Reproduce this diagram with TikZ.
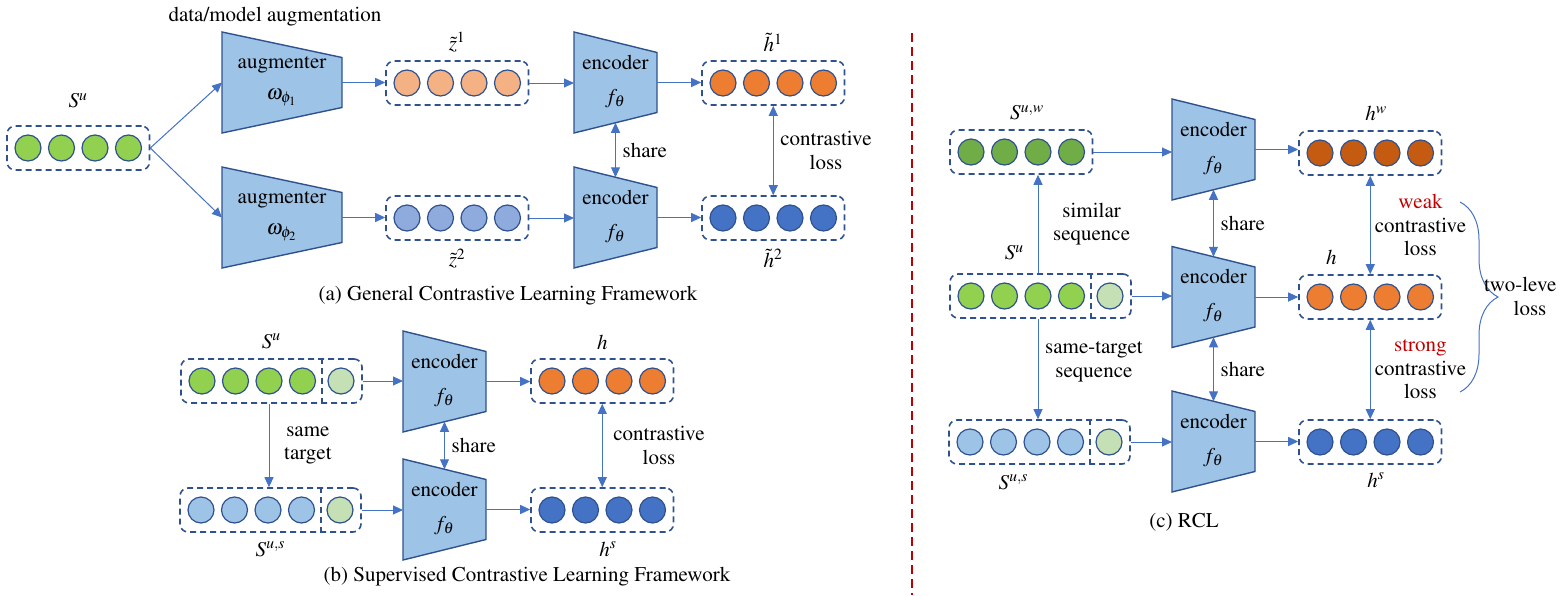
\documentclass[tikz,border=0pt]{standalone}
\usepackage{amsmath}
\usepackage[T1]{fontenc}
\usepackage{mathptmx}
\usetikzlibrary{%
  arrows.meta,%
  positioning,% wg. " of "
  fit,% dashed boxes round the circles
  calc,%
  decorations.pathreplacing% brace
}

\definecolor{boxblue}{HTML}{2F528F}
\definecolor{arrblue}{HTML}{4472C4}
\definecolor{trapfill}{HTML}{9DC3E6}
\definecolor{sgreen}{HTML}{92D050}
\definecolor{dgreen}{HTML}{70AD47}
\definecolor{lgreen}{HTML}{C5E0B4}
\definecolor{lblue}{HTML}{9DC3E6}
\definecolor{dblue}{HTML}{4472C4}
\definecolor{pblue}{HTML}{8FAADC}
\definecolor{sorange}{HTML}{ED7D31}
\definecolor{dorange}{HTML}{C55A11}
\definecolor{salmon}{HTML}{F4B183}
\definecolor{lossred}{HTML}{C00000}

% trapezoid: name, x left, y centre, width, half left height, half right height, text
\newcommand{\trapbox}[7]{%
  \filldraw[fill=trapfill,draw=boxblue,line width=0.7pt]
    (#2,#3-#5) -- (#2+#4,#3-#6) -- (#2+#4,#3+#6) -- (#2,#3+#5) -- cycle;
  \coordinate (#1_w) at (#2,#3);
  \coordinate (#1_e) at (#2+#4,#3);
  \coordinate (#1_n) at (#2+#4/2,#3-#5/2-#6/2);
  \coordinate (#1_s) at (#2+#4/2,#3+#5/2+#6/2);
  \node[align=center] (#1) at (#2+#4/2,#3-1) {#7};
}

\begin{document}
\begin{tikzpicture}[x=0.5pt,y=-0.5pt,
    >={Triangle[length=5pt,width=4.5pt]},
    font=\fontsize{10.5}{12.5}\selectfont,
    dot/.style={circle,draw=boxblue,line width=0.6pt,minimum size=13pt,inner sep=0pt,outer sep=0pt},
    seqbox/.style={draw=boxblue,dash pattern=on 3pt off 2pt,line width=0.8pt,rounded corners=4pt,inner xsep=4pt,inner ysep=4.5pt},
    seqdiv/.style={draw=boxblue,dash pattern=on 3pt off 2pt,line width=0.8pt},
    link/.style={->,arrblue,line width=0.5pt},
    twoway/.style={<->,arrblue,line width=0.5pt},
    losstext/.style={align=center,text=black,font=\fontsize{10.5}{11.75}\selectfont}]
    \useasboundingbox (0,0) rectangle (1564,595);

    %%%% (a) general framework
    \node (augtitle) at (275,17) {data/model augmentation};

    %S^u row
    \node[dot,fill=sgreen] (a_1) at (28,148) {};
    \node[dot,fill=sgreen,right=3.75pt of a_1] (a_2) {};
    \node[dot,fill=sgreen,right=3.75pt of a_2] (a_3) {};
    \node[dot,fill=sgreen,right=3.75pt of a_3] (a_4) {};
    \node[seqbox,fit=(a_1)(a_4)] (su_a) {};
    \node[above=5pt of su_a] (su_a_lbl) {$S^u$};

    %augmenters
    \trapbox{aug1}{222}{82.5}{120}{50.5}{25}{augmenter\\[3pt]$\omega_{\phi_1}$}
    \trapbox{aug2}{222}{217.5}{120}{50.5}{25}{augmenter\\[3pt]$\omega_{\phi_2}$}

    %z1 row
    \node[dot,fill=salmon] (z1_1) at (407,83) {};
    \node[dot,fill=salmon,right=3.75pt of z1_1] (z1_2) {};
    \node[dot,fill=salmon,right=3.75pt of z1_2] (z1_3) {};
    \node[dot,fill=salmon,right=3.75pt of z1_3] (z1_4) {};
    \node[seqbox,fit=(z1_1)(z1_4)] (z1_a) {};
    \node[above=0.5pt of z1_a] (z1_lbl) {$\tilde{z}^1$};

    %z2 row
    \node[dot,fill=pblue] (z2_1) at (407,218) {};
    \node[dot,fill=pblue,right=3.75pt of z2_1] (z2_2) {};
    \node[dot,fill=pblue,right=3.75pt of z2_2] (z2_3) {};
    \node[dot,fill=pblue,right=3.75pt of z2_3] (z2_4) {};
    \node[seqbox,fit=(z2_1)(z2_4)] (z2_a) {};
    \node[below=0.5pt of z2_a] (z2_lbl) {$\tilde{z}^2$};

    %encoders
    \trapbox{enc_a1}{574}{82.5}{83}{50.5}{30}{encoder\\[4.5pt]$f_\theta$}
    \trapbox{enc_a2}{574}{217.5}{83}{50.5}{30}{encoder\\[4.5pt]$f_\theta$}

    %h1 row
    \node[dot,fill=sorange] (h1_1) at (723,83) {};
    \node[dot,fill=sorange,right=3.75pt of h1_1] (h1_2) {};
    \node[dot,fill=sorange,right=3.75pt of h1_2] (h1_3) {};
    \node[dot,fill=sorange,right=3.75pt of h1_3] (h1_4) {};
    \node[seqbox,fit=(h1_1)(h1_4)] (h1_a) {};
    \node[above=0.5pt of h1_a] (h1_lbl) {$\tilde{h}^1$};

    %h2 row
    \node[dot,fill=dblue] (h2_1) at (723,218) {};
    \node[dot,fill=dblue,right=3.75pt of h2_1] (h2_2) {};
    \node[dot,fill=dblue,right=3.75pt of h2_2] (h2_3) {};
    \node[dot,fill=dblue,right=3.75pt of h2_3] (h2_4) {};
    \node[seqbox,fit=(h2_1)(h2_4)] (h2_a) {};
    \node[below=0.5pt of h2_a] (h2_lbl) {$\tilde{h}^2$};

    %paths (a)
    \path[link]
    (su_a.east) edge (aug1_w)
    (su_a.east) edge (aug2_w)
    (aug1_e) edge (aug1_e -| z1_a.west)
    (aug2_e) edge (aug2_e -| z2_a.west)
    (z1_a.east) edge (z1_a.east -| enc_a1_w)
    (z2_a.east) edge (z2_a.east -| enc_a2_w)
    (enc_a1_e) edge (enc_a1_e -| h1_a.west)
    (enc_a2_e) edge (enc_a2_e -| h2_a.west);
    \path[twoway]
    (enc_a1_s) edge node[losstext,right] (share_a) {share} (enc_a2_n)
    (h1_a.south) edge node[losstext,right] (closs_a) {contrastive\\loss} (h2_a.north);

    \node (cap_a) at (508,296) {(a) General Contrastive Learning Framework};

    %%%% (b) supervised framework
    %S^u row
    \node[dot,fill=sgreen] (bu_1) at (202,381) {};
    \node[dot,fill=sgreen,right=3.75pt of bu_1] (bu_2) {};
    \node[dot,fill=sgreen,right=3.75pt of bu_2] (bu_3) {};
    \node[dot,fill=sgreen,right=3.75pt of bu_3] (bu_4) {};
    \node[dot,fill=lgreen,right=6.25pt of bu_4] (bu_5) {};
    \node[seqbox,fit=(bu_1)(bu_5)] (su_b) {};
    \coordinate (bu_div) at ($(bu_4)!0.5!(bu_5)$);
    \draw[seqdiv] (bu_div |- su_b.north) -- (bu_div |- su_b.south);
    \node[above=1.2pt of su_b] (su_b_lbl) {$S^u$};

    %S^{u,s} row
    \node[dot,fill=lblue] (bs_1) at (201,510) {};
    \node[dot,fill=lblue,right=3.75pt of bs_1] (bs_2) {};
    \node[dot,fill=lblue,right=3.75pt of bs_2] (bs_3) {};
    \node[dot,fill=lblue,right=3.75pt of bs_3] (bs_4) {};
    \node[dot,fill=lgreen,right=6.25pt of bs_4] (bs_5) {};
    \node[seqbox,fit=(bs_1)(bs_5)] (sus_b) {};
    \coordinate (bs_div) at ($(bs_4)!0.5!(bs_5)$);
    \draw[seqdiv] (bs_div |- sus_b.north) -- (bs_div |- sus_b.south);
    \node[below=1pt of sus_b] (sus_b_lbl) {$S^{u,s}$};

    %encoders
    \trapbox{enc_b1}{403}{381.5}{83}{50.5}{30}{encoder\\[4.5pt]$f_\theta$}
    \trapbox{enc_b2}{403}{509.5}{83}{50.5}{30}{encoder\\[4.5pt]$f_\theta$}

    %h row
    \node[dot,fill=sorange] (bh_1) at (552,381) {};
    \node[dot,fill=sorange,right=3.75pt of bh_1] (bh_2) {};
    \node[dot,fill=sorange,right=3.75pt of bh_2] (bh_3) {};
    \node[dot,fill=sorange,right=3.75pt of bh_3] (bh_4) {};
    \node[seqbox,fit=(bh_1)(bh_4)] (h_b) {};
    \node[above=0.5pt of h_b] (h_b_lbl) {$h$};

    %h^s row
    \node[dot,fill=dblue] (bhs_1) at (552,510) {};
    \node[dot,fill=dblue,right=3.75pt of bhs_1] (bhs_2) {};
    \node[dot,fill=dblue,right=3.75pt of bhs_2] (bhs_3) {};
    \node[dot,fill=dblue,right=3.75pt of bhs_3] (bhs_4) {};
    \node[seqbox,fit=(bhs_1)(bhs_4)] (hs_b) {};
    \node[below=1pt of hs_b,xshift=3pt] (hs_b_lbl) {$h^s$};

    %paths (b)
    \path[link]
    (su_b.east) edge (su_b.east -| enc_b1_w)
    (sus_b.east) edge (sus_b.east -| enc_b2_w)
    (enc_b1_e) edge (enc_b1_e -| h_b.west)
    (enc_b2_e) edge (enc_b2_e -| hs_b.west)
    (bu_3 |- su_b.south) edge node[losstext,right=4pt] (same_b) {same\\target} (bu_3 |- sus_b.north);
    \path[twoway]
    (enc_b1_s) edge node[losstext,right] (share_b) {share} (enc_b2_n)
    (h_b.south) edge node[losstext,right=2pt] (closs_b) {contrastive\\loss} (hs_b.north);

    \node (cap_b) at (527,577) {(b) Supervised Contrastive Learning Framework};

    %%%% divider
    \coordinate (div_top) at (912,33);
    \coordinate (div_bot) at (912,595);
    \draw[lossred,line width=1pt,dash pattern=on 4.5pt off 2.5pt] (div_top) -- (div_bot);

    %%%% (c) RCL
    %S^{u,w} row
    \node[dot,fill=dgreen] (cw_1) at (971,152) {};
    \node[dot,fill=dgreen,right=3.75pt of cw_1] (cw_2) {};
    \node[dot,fill=dgreen,right=3.75pt of cw_2] (cw_3) {};
    \node[dot,fill=dgreen,right=3.75pt of cw_3] (cw_4) {};
    \node[seqbox,fit=(cw_1)(cw_4)] (suw_c) {};
    \node[above=1pt of suw_c,xshift=3pt] (suw_c_lbl) {$S^{u,w}$};

    %S^u row
    \node[dot,fill=sgreen] (cu_1) at (971,296) {};
    \node[dot,fill=sgreen,right=3.75pt of cu_1] (cu_2) {};
    \node[dot,fill=sgreen,right=3.75pt of cu_2] (cu_3) {};
    \node[dot,fill=sgreen,right=3.75pt of cu_3] (cu_4) {};
    \node[dot,fill=lgreen,right=6.25pt of cu_4] (cu_5) {};
    \node[seqbox,fit=(cu_1)(cu_5)] (su_c) {};
    \coordinate (cu_div) at ($(cu_4)!0.5!(cu_5)$);
    \draw[seqdiv] (cu_div |- su_c.north) -- (cu_div |- su_c.south);
    \node[above=3pt of su_c,xshift=-13pt] (su_c_lbl) {$S^u$};

    %S^{u,s} row
    \node[dot,fill=lblue] (cs_1) at (970,442) {};
    \node[dot,fill=lblue,right=3.75pt of cs_1] (cs_2) {};
    \node[dot,fill=lblue,right=3.75pt of cs_2] (cs_3) {};
    \node[dot,fill=lblue,right=3.75pt of cs_3] (cs_4) {};
    \node[dot,fill=lgreen,right=6.25pt of cs_4] (cs_5) {};
    \node[seqbox,fit=(cs_1)(cs_5)] (sus_c) {};
    \coordinate (cs_div) at ($(cs_4)!0.5!(cs_5)$);
    \draw[seqdiv] (cs_div |- sus_c.north) -- (cs_div |- sus_c.south);
    \node[below=1.5pt of sus_c,xshift=-13pt] (sus_c_lbl) {$S^{u,s}$};

    %encoders
    \trapbox{enc_c1}{1172}{149.5}{83}{50.5}{30}{encoder\\[4.5pt]$f_\theta$}
    \trapbox{enc_c2}{1172}{297}{83}{50.5}{30}{encoder\\[4.5pt]$f_\theta$}
    \trapbox{enc_c3}{1172}{441.5}{83}{50.5}{30}{encoder\\[4.5pt]$f_\theta$}

    %h^w row
    \node[dot,fill=dorange] (chw_1) at (1320,153) {};
    \node[dot,fill=dorange,right=3.75pt of chw_1] (chw_2) {};
    \node[dot,fill=dorange,right=3.75pt of chw_2] (chw_3) {};
    \node[dot,fill=dorange,right=3.75pt of chw_3] (chw_4) {};
    \node[seqbox,fit=(chw_1)(chw_4)] (hw_c) {};
    \node[above=1pt of hw_c,xshift=3pt] (hw_c_lbl) {$h^w$};

    %h row
    \node[dot,fill=sorange] (ch_1) at (1320,297) {};
    \node[dot,fill=sorange,right=3.75pt of ch_1] (ch_2) {};
    \node[dot,fill=sorange,right=3.75pt of ch_2] (ch_3) {};
    \node[dot,fill=sorange,right=3.75pt of ch_3] (ch_4) {};
    \node[seqbox,fit=(ch_1)(ch_4)] (h_c) {};
    \node[above=1pt of h_c,xshift=-19.5pt] (h_c_lbl) {$h$};

    %h^s row
    \node[dot,fill=dblue] (chs_1) at (1320,442) {};
    \node[dot,fill=dblue,right=3.75pt of chs_1] (chs_2) {};
    \node[dot,fill=dblue,right=3.75pt of chs_2] (chs_3) {};
    \node[dot,fill=dblue,right=3.75pt of chs_3] (chs_4) {};
    \node[seqbox,fit=(chs_1)(chs_4)] (hs_c) {};
    \node[below=0.5pt of hs_c,xshift=3pt] (hs_c_lbl) {$h^s$};

    %paths (c)
    \path[link]
    (suw_c.east) edge (suw_c.east -| enc_c1_w)
    (su_c.east) edge (su_c.east -| enc_c2_w)
    (sus_c.east) edge (sus_c.east -| enc_c3_w)
    (enc_c1_e) edge (enc_c1_e -| hw_c.west)
    (enc_c2_e) edge (enc_c2_e -| h_c.west)
    (enc_c3_e) edge (enc_c3_e -| hs_c.west)
    (cu_3 |- su_c.north) edge node[losstext,right=4pt] (sim_c) {similar\\sequence} (cu_3 |- suw_c.south)
    (cu_3 |- su_c.south) edge node[losstext,right=0pt,yshift=3.5pt] (same_c) {same-target\\sequence} (cu_3 |- sus_c.north);
    \path[twoway]
    (enc_c1_s) edge node[losstext,right] (share_c1) {share} (enc_c2_n)
    (enc_c2_s) edge node[losstext,right] (share_c2) {share} (enc_c3_n)
    (hw_c.south) edge node[losstext,right=-1.3pt] (weak_c) {\textcolor{lossred}{weak}\\contrastive\\loss} (h_c.north)
    (h_c.south) edge node[losstext,right=-1.3pt] (strong_c) {\textcolor{lossred}{strong}\\contrastive\\loss} (hs_c.north);

    %brace
    \coordinate (br_top) at (1460,202);
    \coordinate (br_bot) at (1460,392);
    \draw[arrblue,line width=0.5pt,decorate,decoration={brace,amplitude=19pt}] (br_top) -- (br_bot);
    \node[anchor=west] (twolev) at (1477,284) {two-leve};
    \node (twolev_loss) at (1530,308) {loss};

    \node (cap_c) at (1184,522) {(c) RCL};
\end{tikzpicture}
\end{document}
